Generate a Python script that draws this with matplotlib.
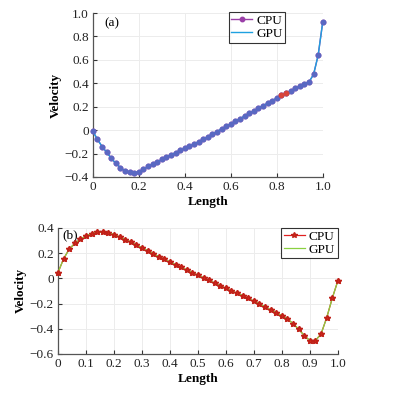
import matplotlib
matplotlib.use('Agg')
import matplotlib.pyplot as plt
import numpy as np

plt.rcParams['font.family'] = ['Liberation Serif', 'DejaVu Serif']
plt.rcParams['axes.unicode_minus'] = True

# ── data ────────────────────────────────────────────────────────────────────
length = np.round(np.arange(51) * 0.02, 2)

vel_a = [-0.01, -0.08, -0.14, -0.19, -0.24, -0.285, -0.32, -0.35, -0.36, -0.365,
         -0.355, -0.335, -0.31, -0.29, -0.272, -0.25, -0.23, -0.21, -0.192, -0.173,
         -0.155, -0.137, -0.118, -0.099, -0.078, -0.056, -0.034, -0.012, 0.01, 0.032,
         0.054, 0.076, 0.098, 0.12, 0.142, 0.164, 0.186, 0.208, 0.23, 0.252,
         0.274, 0.296, 0.316, 0.336, 0.356, 0.374, 0.392, 0.41, 0.476, 0.64,
         0.925]
mismatch_a = [41, 42]   # points where CPU/GPU markers differ (shown red)

vel_b = [0.045, 0.154, 0.231, 0.278, 0.31, 0.336, 0.355, 0.366, 0.368, 0.363,
         0.347, 0.329, 0.307, 0.289, 0.265, 0.244, 0.22, 0.196, 0.172, 0.151,
         0.13, 0.109, 0.088, 0.067, 0.046, 0.025, 0.004, -0.017, -0.038, -0.059,
         -0.08, -0.101, -0.118, -0.137, -0.158, -0.182, -0.203, -0.227, -0.251, -0.272,
         -0.296, -0.322, -0.359, -0.404, -0.454, -0.494, -0.494, -0.441, -0.314, -0.158,
         -0.02]

xticks_a = [0, 0.2, 0.4, 0.6, 0.8, 1.0]
yticks_a = [-0.4, -0.2, 0, 0.2, 0.4, 0.6, 0.8, 1.0]
xticks_b = [0, 0.1, 0.2, 0.3, 0.4, 0.5, 0.6, 0.7, 0.8, 0.9, 1.0]
yticks_b = [-0.6, -0.4, -0.2, 0, 0.2, 0.4]


def fmt(v):
    return '0' if abs(v) < 1e-9 else f'{v:.1f}'.replace('-', '\u2212')


def style_axes(ax, xt, yt, xlim, ylim):
    ax.set_xlim(*xlim)
    ax.set_ylim(*ylim)
    ax.set_xticks(xt)
    ax.set_yticks(yt)
    ax.set_xticklabels([fmt(v) for v in xt])
    ax.set_yticklabels([fmt(v) for v in yt])
    ax.tick_params(direction='in', length=3, width=0.8, labelsize=9.5,
                   colors='#333333', labelcolor='#222222', pad=3)
    for s in ['top', 'right']:
        ax.spines[s].set_visible(False)
    for s in ['left', 'bottom']:
        ax.spines[s].set_color('#555555')
        ax.spines[s].set_linewidth(0.9)
    ax.grid(True, color='#ececec', lw=0.7)
    ax.set_axisbelow(True)
    ax.set_xlabel('Length', fontweight='bold', fontsize=9.5, labelpad=2)
    ax.set_ylabel('Velocity', fontweight='bold', fontsize=9.5, labelpad=2)


fig = plt.figure(figsize=(3.97, 3.95), dpi=100)

# Panel (a)
ax1 = fig.add_axes([0.234, 0.552, 0.579, 0.415])
ax1.plot(length, vel_a, color='#9a3fa8', lw=1.0, marker='o', ms=3.2,
         mfc='#9a3fa8', mec='#9a3fa8', label='CPU', zorder=3, clip_on=False)
ax1.plot(length, vel_a, color='#1ea0e0', lw=1.0, label='GPU', zorder=4)
ax1.plot(length, vel_a, ls='none', marker='o', ms=3.2, mfc='#5a68c2',
         mec='#5a68c2', zorder=5, clip_on=False)
ax1.plot(length[mismatch_a], np.array(vel_a)[mismatch_a], ls='none', marker='o',
         ms=3.2, mfc='#d8433a', mec='#d8433a', zorder=6)
style_axes(ax1, xticks_a, yticks_a, (0, 1.0), (-0.4, 1.0))
ax1.text(0.05, 0.96, '(a)', fontsize=9.5, va='top', ha='left')
leg1 = ax1.legend(loc='upper left', bbox_to_anchor=(0.59, 1.005), fontsize=9.5,
                  frameon=True, fancybox=False, edgecolor='black',
                  handlelength=1.6, handletextpad=0.3, borderpad=0.2,
                  labelspacing=0.05, borderaxespad=0)
leg1.get_frame().set_linewidth(0.8)

# Panel (b)
ax2 = fig.add_axes([0.146, 0.104, 0.705, 0.319])
ax2.plot(length, vel_b, color='#e02020', lw=0.9, marker='*', ms=4.3,
         mfc='#d42a1a', mec='#c02018', label='CPU', zorder=3, clip_on=False)
ax2.plot(length, vel_b, color='#8ad040', lw=0.9, label='GPU', zorder=4)
ax2.plot(length, vel_b, ls='none', marker='*', ms=4.3, mfc='#d42a1a',
         mec='#c02018', zorder=5, clip_on=False)
style_axes(ax2, xticks_b, yticks_b, (0, 1.0), (-0.6, 0.4))
ax2.text(0.015, 0.39, '(b)', fontsize=9.5, va='top', ha='left')
leg2 = ax2.legend(loc='upper right', bbox_to_anchor=(1.0, 1.0), fontsize=9.5,
                  frameon=True, fancybox=False, edgecolor='black',
                  handlelength=1.6, handletextpad=0.3, borderpad=0.2,
                  labelspacing=0.05, borderaxespad=0)
leg2.get_frame().set_linewidth(0.8)

fig.savefig('out.png', dpi=100)
